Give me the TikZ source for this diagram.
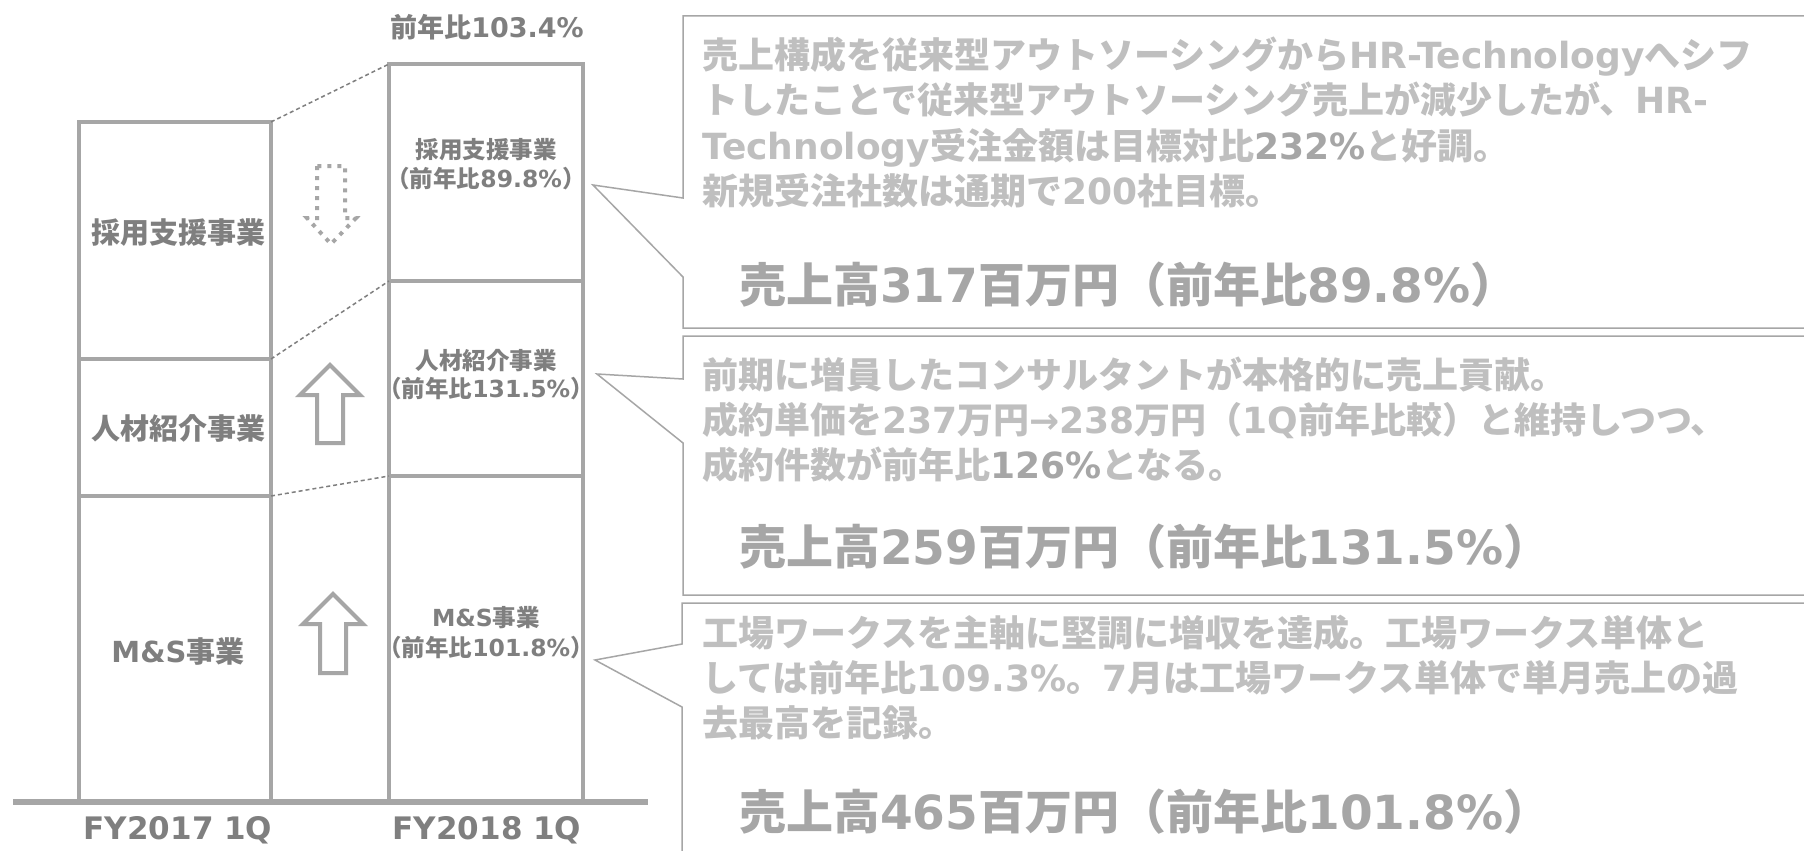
\documentclass[tikz,border=0pt]{standalone}
\usepackage{fontspec}
\setmainfont{DejaVu Sans}
\newfontfamily\cjkfont{Noto Sans CJK JP}
\newfontfamily\latfont{DejaVu Sans}
\XeTeXinterchartokenstate=1
\chardef\cjkcls=50
\newcount\mycnt
\mycnt="3000
\loop\ifnum\mycnt<"A000 \XeTeXcharclass\mycnt=\cjkcls\relax\advance\mycnt by 1 \repeat
\mycnt="FF00
\loop\ifnum\mycnt<"FFF0 \XeTeXcharclass\mycnt=\cjkcls\relax\advance\mycnt by 1 \repeat
\XeTeXinterchartoks 0 \cjkcls = {\cjkfont}
\XeTeXinterchartoks 4095 \cjkcls = {\cjkfont}
\XeTeXinterchartoks \cjkcls 0 = {\latfont}
\definecolor{barline}{HTML}{A6A6A6}
\definecolor{bartext}{HTML}{7F7F7F}
\definecolor{lighttext}{HTML}{BFBFBF}
\definecolor{midtext}{HTML}{A6A6A6}
\definecolor{dashcol}{HTML}{7F7F7F}
\definecolor{calline}{HTML}{A6A6A6}
\begin{document}
\begin{tikzpicture}[x=1pt,y=-1pt,
 seg/.style={draw=barline,line width=4pt,rectangle,inner sep=0pt,outer sep=0pt},
 lbl/.style={text=bartext,inner sep=0pt,font=\bfseries\fontsize{29}{34}\selectfont,text height=23.2pt,text depth=1.2pt},
 rlbl/.style={text=bartext,inner sep=0pt,font=\bfseries\fontsize{23.5}{28}\selectfont,text height=18.8pt,text depth=0.9pt},
 fylbl/.style={text=bartext,inner sep=0pt,font=\bfseries\fontsize{31}{36}\selectfont,text height=22.6pt,text depth=0pt},
 toplbl/.style={text=bartext,inner sep=0pt,font=\bfseries\fontsize{27}{32}\selectfont,text height=21.6pt,text depth=1.1pt},
 dline/.style={draw=dashcol,line width=1.5pt,dash pattern=on 4pt off 3pt},
 callout/.style={draw=calline,line width=1.5pt,line join=miter},
 ctext/.style={text=lighttext,anchor=west,inner sep=0pt,font=\bfseries\fontsize{36}{43}\selectfont,text height=28.8pt,text depth=1.4pt},
 cbig/.style={text=midtext,anchor=west,inner sep=0pt,font=\bfseries\fontsize{47}{56}\selectfont,text height=37.6pt,text depth=1.9pt},
 blockarrow/.style={draw=barline,fill=white,line width=4pt,line join=miter},
 dotarrow/.style={draw=barline,line width=4pt,dash pattern=on 4pt off 6pt}]
\useasboundingbox[fill=white] (0,0) rectangle (1804,851);

% bars
\node[seg,minimum width=192pt,minimum height=237pt] (L1) at (175,240.5) {};
\node[seg,minimum width=192pt,minimum height=137pt] (L2) at (175,427.5) {};
\node[seg,minimum width=192pt,minimum height=306pt] (L3) at (175,649) {};
\node[seg,minimum width=194pt,minimum height=217pt] (R1) at (486,172.5) {};
\node[seg,minimum width=194pt,minimum height=195pt] (R2) at (486,378.5) {};
\node[seg,minimum width=194pt,minimum height=326pt] (R3) at (486,639) {};

\coordinate (bl0) at (13,802);
\coordinate (bl1) at (648,802);
\draw[draw=barline,line width=6pt] (bl0) -- (bl1);

\draw[dline] (L1.north east) -- (R1.north west);
\draw[dline] (L2.north east) -- (R2.north west);
\draw[dline] (L3.north east) -- (R3.north west);

% labels
\node[lbl] (tL1) at (178,232) {採用支援事業};
\node[lbl] (tL2) at (178,428) {人材紹介事業};
\node[lbl] (tL3) at (178,651) {M\&S事業};
\node[rlbl] (tR1a) at (486,150) {採用支援事業};
\node[rlbl] (tR1b) at (486,179) {（前年比89.8\%）};
\node[rlbl] (tR2a) at (486,361) {人材紹介事業};
\node[rlbl] (tR2b) at (486,389) {（前年比131.5\%）};
\node[rlbl] (tR3a) at (486,618) {M\&S事業};
\node[rlbl] (tR3b) at (486,648) {（前年比101.8\%）};
\node[toplbl] (ttop) at (487,27) {前年比103.4\%};
\node[fylbl] (fy17) at (178,828) {FY2017 1Q};
\node[fylbl] (fy18) at (487,828) {FY2018 1Q};

% arrows
\draw[dotarrow] (317,166) -- (317,218) -- (307,218) -- (331,244) -- (356,218) -- (345,218) -- (345,166) -- cycle;
\draw[blockarrow] (317,443) -- (317,395) -- (300,395) -- (330,365) -- (360,395) -- (343,395) -- (343,443) -- cycle;
\draw[blockarrow] (320,673) -- (320,624) -- (303,624) -- (333,594) -- (363,624) -- (346,624) -- (346,673) -- cycle;

% callouts
\coordinate (tip1) at (593,185);
\coordinate (tip2) at (597,374);
\coordinate (tip3) at (595,660);
\draw[callout] (683,198) -- (683,16) -- (1812,16) -- (1812,328) -- (683,328) -- (683,277) -- (tip1) -- cycle;
\draw[callout] (683,379) -- (683,336) -- (1812,336) -- (1812,595) -- (683,595) -- (683,443) -- (tip2) -- cycle;
\draw[callout] (682,644) -- (682,603) -- (1812,603) -- (1812,860) -- (682,860) -- (682,707) -- (tip3) -- cycle;

\node[ctext] (a1) at (702,55) {売上構成を従来型アウトソーシングからHR-Technologyへシフ};
\node[ctext] (a2) at (702,100) {トしたことで従来型アウトソーシング売上が減少したが、HR-};
\node[ctext] (a3) at (702,146) {Technology受注金額は目標対比\textcolor{midtext}{\latfont 232\%}と好調。};
\node[ctext] (a4) at (702,191) {新規受注社数は通期で200社目標。};
\node[cbig] (a5) at (739,285) {売上高317百万円（前年比89.8\%）};

\node[ctext] (b1) at (702,375) {前期に増員したコンサルタントが本格的に売上貢献。};
\node[ctext] (b2) at (702,420) {成約単価を237万円→238万円（1Q前年比較）と維持しつつ、};
\node[ctext] (b3) at (702,465) {成約件数が前年比\textcolor{midtext}{\latfont 126\%}となる。};
\node[cbig] (b4) at (739,547) {売上高259百万円（前年比131.5\%）};

\node[ctext] (c1) at (702,633) {工場ワークスを主軸に堅調に増収を達成。工場ワークス単体と};
\node[ctext] (c2) at (702,678) {しては前年比109.3\%。7月は工場ワークス単体で単月売上の過};
\node[ctext] (c3) at (702,723) {去最高を記録。};
\node[cbig] (c4) at (739,812) {売上高465百万円（前年比101.8\%）};
\end{tikzpicture}
\end{document}
